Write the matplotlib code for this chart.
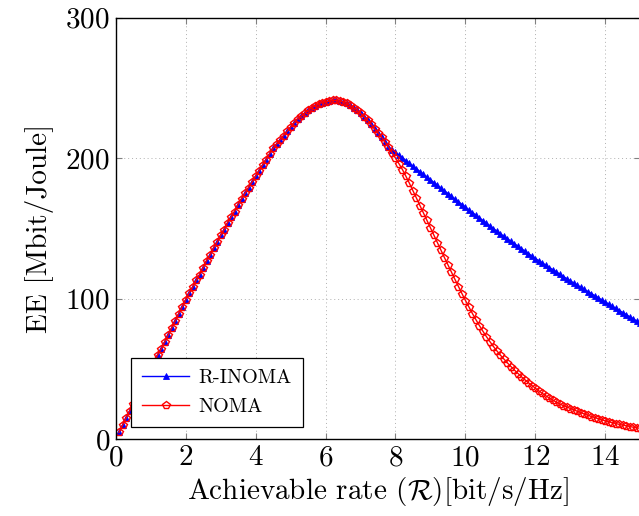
import numpy as np
from matplotlib import pyplot as plt

plt.rcParams['font.family'] = 'cmr10'
plt.rcParams['mathtext.fontset'] = 'cm'
plt.rcParams['axes.formatter.use_mathtext'] = True

# achievable rate grid (bit/s/Hz)
rate = [round(0.1 * k, 1) for k in range(1, 151)]

# common part of both curves, rate 0.1 ... 7.8
ee_common = [
    5, 10, 15, 20, 25, 30, 35, 40, 45, 50,
    55, 60, 64, 69, 74, 79, 84, 89, 94, 99,
    104, 108, 113, 117, 122, 127, 131, 136, 140, 145,
    149, 154, 158, 162, 167, 171, 175, 179, 183, 187,
    191, 195, 199, 203, 207, 210, 213, 216, 219, 222,
    225, 228, 230, 232, 234, 236, 237, 238.5, 239.5, 240,
    240.5, 241, 241, 240.5, 240, 239, 237.5, 236, 234, 232,
    229.5, 227, 224, 221, 218, 215, 211.5, 208,
]

# R-INOMA after the split, rate 7.9 ... 15.0
ee_rinoma_tail = [
    206.0, 204.1, 202.1, 200.2, 198.2, 196.3, 194.3, 192.4, 190.4, 188.5,
    186.5, 184.6, 182.6, 180.7, 178.7, 176.8, 174.8, 172.9, 170.9, 169.0,
    167.0, 165.1, 163.2, 161.3, 159.4, 157.5, 155.6, 153.7, 151.8, 149.9,
    148.0, 146.1, 144.4, 142.6, 140.9, 139.1, 137.4, 135.6, 133.9, 132.1,
    130.4, 128.6, 127.0, 125.4, 123.8, 122.2, 120.6, 119.0, 117.4, 115.8,
    114.2, 112.6, 111.1, 109.6, 108.1, 106.6, 105.1, 103.6, 102.1, 100.6,
    99.1, 97.6, 96.1, 94.6, 93.1, 91.6, 90.1, 88.6, 87.1, 85.6,
    84.1, 82.6,
]

# NOMA after the split, rate 7.9 ... 15.0
ee_noma_tail = [
    204, 200, 196, 191.8, 187, 182, 176.8, 171.5, 166.2, 161,
    155.7, 150.4, 145.1, 139.8, 134.5, 129.2, 124, 118.8, 113.7, 108.6,
    103.6, 98.7, 94, 89.4, 85, 80.8, 76.8, 73, 69.4, 66,
    62.8, 59.8, 57, 54.3, 51.7, 49.2, 46.8, 44.5, 42.3, 40.2,
    38.2, 36.3, 34.4, 32.6, 30.9, 29.3, 27.8, 26.4, 25.1, 23.9,
    23.0, 21.9, 20.9, 19.9, 18.9, 18.0, 17.1, 16.2, 15.4, 14.6,
    13.8, 13.1, 12.4, 11.8, 11.2, 10.6, 10.1, 9.6, 9.1, 8.6,
    8.2, 7.8,
]

ee_rinoma = ee_common + ee_rinoma_tail
ee_noma = ee_common + ee_noma_tail

xticks = [0, 2, 4, 6, 8, 10, 12, 14]
yticks = [0, 100, 200, 300]

fig = plt.figure(figsize=(6.39, 5.16), dpi=100)
ax = fig.add_axes([0.1808, 0.1486, 1.0023 - 0.1808, 0.966 - 0.1486])

ax.plot(rate, ee_rinoma, color='blue', lw=1.0, marker='^', ms=4.8,
        markeredgewidth=0.6, label='R-INOMA')
ax.plot(rate, ee_noma, color='red', lw=1.0, marker='p', ms=5.4,
        markerfacecolor='none', markeredgewidth=1.0, label='NOMA')

ax.set_xlim(0, 15)
ax.set_ylim(0, 300)
ax.set_xticks(xticks)
ax.set_yticks(yticks)
ax.grid(True, linestyle=(0, (1, 3)), color='#b0b0b0', linewidth=0.7)
ax.tick_params(direction='in', top=True, right=True, length=4.5,
               width=0.8, color='#808080', labelsize=21, pad=4)
for s in ax.spines.values():
    s.set_linewidth(1.0)

ax.set_xlabel(r'Achievable rate ($\mathcal{R}$)[bit/s/Hz]', fontsize=21, labelpad=3)
ax.set_ylabel('EE [Mbit/Joule]', fontsize=21, labelpad=8)

leg = ax.legend(loc='lower left', bbox_to_anchor=(0.03, 0.03), fontsize=14.5,
                frameon=True, fancybox=False, edgecolor='black',
                handlelength=2.3, handletextpad=0.5, borderpad=0.55,
                borderaxespad=0, labelspacing=0.5)
leg.get_frame().set_linewidth(0.9)
leg.get_frame().set_alpha(1)

fig.savefig('out.png', dpi=100)
